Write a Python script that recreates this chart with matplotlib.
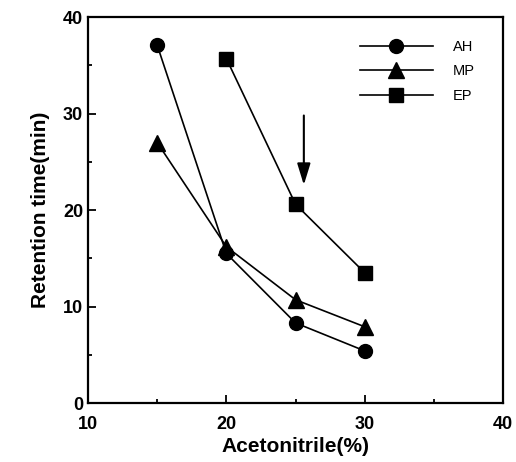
import matplotlib.pyplot as plt
from matplotlib.ticker import MultipleLocator

plt.rcParams['font.family'] = ['Liberation Sans', 'DejaVu Sans']

acetonitrile = [15, 20, 25, 30]
acetonitrile_ep = [20, 25, 30]
ah = [37.1, 15.5, 8.3, 5.4]
mp = [27.0, 16.2, 10.7, 7.9]
ep = [35.7, 20.6, 13.5]
arrow_x = 25.6
arrow_from, arrow_to = 29.8, 22.6

fig = plt.figure(figsize=(5.16, 4.62), dpi=100)
ax = fig.add_axes([0.1705, 0.1277, 0.8045, 0.8353])

ax.plot(acetonitrile, ah, '-ok', lw=1.2, ms=10, label='AH')
ax.plot(acetonitrile, mp, '-^k', lw=1.2, ms=11, label='MP')
ax.plot(acetonitrile_ep, ep, '-sk', lw=1.2, ms=9.5, label='EP')

ax.annotate('', xy=(arrow_x, arrow_to), xytext=(arrow_x, arrow_from),
            arrowprops=dict(arrowstyle='-|>,head_length=1.3,head_width=0.4',
                            color='k', lw=1.5, shrinkA=0, shrinkB=0))

ax.set_xlim(10, 40)
ax.set_ylim(0, 40)
ax.xaxis.set_major_locator(MultipleLocator(10))
ax.xaxis.set_minor_locator(MultipleLocator(5))
ax.yaxis.set_major_locator(MultipleLocator(10))
ax.yaxis.set_minor_locator(MultipleLocator(5))
ax.tick_params(which='both', direction='in', width=1.3)
ax.tick_params(which='major', length=6, labelsize=13)
ax.tick_params(axis='x', which='major', pad=9)
ax.tick_params(which='minor', length=3)
for lbl in ax.get_xticklabels() + ax.get_yticklabels():
    lbl.set_fontweight('bold')
for s in ax.spines.values():
    s.set_linewidth(1.6)

ax.set_xlabel('Acetonitrile(%)', fontsize=15, fontweight='bold', labelpad=3)
ax.set_ylabel('Retention time(min)', fontsize=15, fontweight='bold', labelpad=9)

ax.legend(loc='upper left', bbox_to_anchor=(0.655, 0.94), frameon=False,
          fontsize=10.5, handlelength=5.0, handletextpad=1.4, labelspacing=0.7,
          borderpad=0, borderaxespad=0)

fig.savefig('out.png', dpi=100)
